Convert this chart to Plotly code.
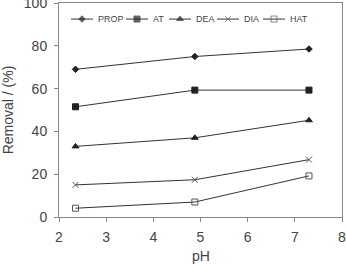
import plotly.graph_objects as go

ph = [2.35, 4.88, 7.3]
prop = [69, 75, 78.5]
at = [51.5, 59.3, 59.3]
dea = [33, 37, 45.2]
dia = [15, 17.4, 26.8]
hat = [4.1, 7, 19.2]

names = ["PROP", "AT", "DEA", "DIA", "HAT"]
values = [prop, at, dea, dia, hat]
symbols = ["diamond", "square", "triangle-up", "x-thin-open", "square-open"]
sizes = [5, 6, 6, 6, 6]
colors = ["#222", "#222", "#222", "#555", "#555"]

# legend layout (pixel centres of legend symbols in plot area)
L, R, T, B = 59, 4, 3, 47
W, H = 346, 264
pw = W - L - R
leg_px = [82, 137, 180, 228, 274]
leg_half = 11
leg_y = 0.925

fig = go.Figure()
for name, ys, sym, sz, col in zip(names, values, symbols, sizes, colors):
    fig.add_trace(go.Scatter(
        x=ph, y=ys, name=name, mode="lines+markers", showlegend=False,
        line=dict(color="#333", width=1),
        marker=dict(symbol=sym, size=sz, color=col, line=dict(color=col, width=1)),
    ))

annotations = []
for name, sym, sz, col, cx in zip(names, symbols, sizes, colors, leg_px):
    xc = (cx - L) / pw
    xl = (cx - leg_half - L) / pw
    xr = (cx + leg_half - L) / pw
    fig.add_trace(go.Scatter(
        x=[xl, xc, xr], y=[leg_y] * 3, xaxis="x2", yaxis="y2",
        mode="lines+markers", showlegend=False, hoverinfo="skip",
        line=dict(color="#333", width=1),
        marker=dict(symbol=sym, size=[0, sz, 0], color=col, line=dict(color=col, width=1)),
    ))
    annotations.append(dict(
        x=xr, y=leg_y, xref="x2", yref="y2", text=name, showarrow=False,
        xanchor="left", yanchor="middle", xshift=3,
        font=dict(size=9, color="#444"),
    ))

# x-axis title placed low like the reference
annotations.append(dict(
    x=0.5, y=0, xref="paper", yref="paper", text="pH", showarrow=False,
    xanchor="center", yanchor="middle", yshift=-39,
    font=dict(size=14, color="#444"),
))

font = "Liberation Sans, Arial, sans-serif"
fig.update_layout(
    width=W, height=H,
    margin=dict(l=L, r=R, t=T, b=B, autoexpand=False),
    paper_bgcolor="white", plot_bgcolor="white",
    font=dict(family=font, color="#444", size=14),
    showlegend=False,
    annotations=annotations,
    xaxis=dict(range=[2, 8], tickvals=[2, 3, 4, 5, 6, 7, 8], showgrid=False, zeroline=False,
               ticks="outside", ticklen=4, tickcolor="#888", ticklabelstandoff=3,
               ticklabeloverflow="allow",
               showline=True, linecolor="#888", mirror=True,
               tickfont=dict(size=14)),
    yaxis=dict(range=[0, 100], tickvals=[0, 20, 40, 60, 80, 100], showgrid=False, zeroline=False,
               ticks="outside", ticklen=4, tickcolor="#888", ticklabelstandoff=4,
               ticklabeloverflow="allow",
               showline=True, linecolor="#888", mirror=True,
               title=dict(text="Removal / (%)", font=dict(size=14), standoff=16),
               tickfont=dict(size=14)),
    xaxis2=dict(range=[0, 1], overlaying="x", visible=False, fixedrange=True),
    yaxis2=dict(range=[0, 1], overlaying="y", visible=False, fixedrange=True),
)
fig.write_html("out.html")
